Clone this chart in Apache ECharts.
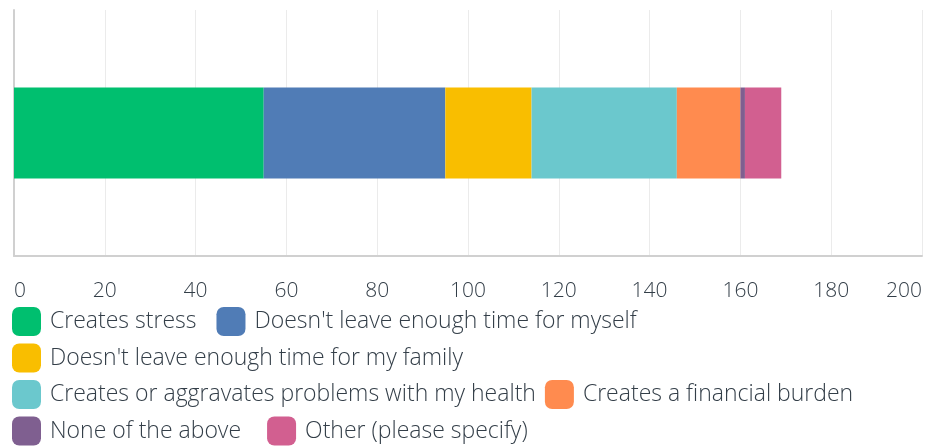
<!DOCTYPE html>
<html>
<head>
<meta charset="utf-8">
<script src="https://cdn.jsdelivr.net/npm/echarts@6/dist/echarts.min.js"></script>
<style>
  html, body { margin: 0; padding: 0; background: #fff; }
  #chart { width: 925px; height: 447px; }
</style>
</head>
<body>
<div id="chart"></div>
<script>
// answer categories (one stacked bar)
const names = [
  "Creates stress",
  "Doesn't leave enough time for myself",
  "Doesn't leave enough time for my family",
  "Creates or aggravates problems with my health",
  "Creates a financial burden",
  "None of the above",
  "Other (please specify)"
];
const values = [55, 40, 19, 32, 14, 1, 8];
const colors = ["#00bf6f", "#507cb6", "#f9be00", "#6bc8cd", "#ff8b4f", "#7f5f90", "#d25f90"];
// legend rows as they wrap in the picture
const legendRows = [
  [names[0], names[1]],
  [names[2]],
  [names[3], names[4]],
  [names[5], names[6]]
];
const rowGaps = [20, 20, 9, 26];

const textColor = "#333e48";
const font = "'Open Sans', sans-serif";

const chart = echarts.init(document.getElementById("chart"));

const series = names.map((n, i) => ({
  name: n,
  type: "bar",
  stack: "total",
  barWidth: 91,
  itemStyle: { color: colors[i] },
  data: [values[i]]
}));

const legends = legendRows.map((row, r) => ({
  data: row,
  left: 12,
  top: 307 + r * 36.5,
  orient: "horizontal",
  icon: "roundRect",
  itemWidth: 29,
  itemHeight: 29,
  itemGap: rowGaps[r],
  padding: 0,
  textStyle: {
    fontSize: 23,
    fontWeight: 300,
    color: textColor,
    fontFamily: font,
    padding: [0, 0, 0, 4]
  },
  selectedMode: false
}));

chart.setOption({
  animation: false,
  color: colors,
  legend: legends,
  grid: { left: 14, right: 3, top: 10, bottom: 191, containLabel: false },
  xAxis: {
    type: "value",
    min: 0,
    max: 200,
    interval: 20,
    axisLine: { show: true, lineStyle: { color: "#d0d0d0", width: 2 } },
    axisTick: { show: false },
    splitLine: { show: true, lineStyle: { color: "#ebebeb", width: 1 } },
    axisLabel: {
      fontSize: 21,
      fontWeight: 300,
      color: textColor,
      fontFamily: font,
      margin: 25,
      alignMinLabel: "left",
      alignMaxLabel: "right"
    }
  },
  yAxis: {
    type: "category",
    data: [""],
    axisLine: { show: true, lineStyle: { color: "#d0d0d0", width: 2 } },
    axisTick: { show: false },
    axisLabel: { show: false }
  },
  series: series
});
</script>
</body>
</html>
